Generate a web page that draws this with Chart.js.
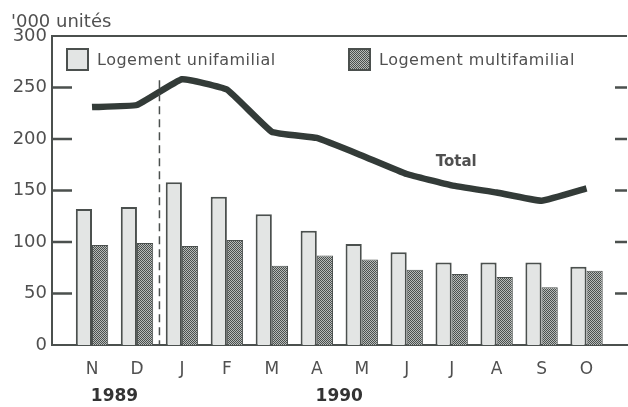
<!DOCTYPE html>
<html>
<head>
<meta charset="utf-8">
<script src="https://cdn.jsdelivr.net/npm/chart.js@4.4.1/dist/chart.umd.min.js"></script>
<style>
  html, body { margin: 0; padding: 0; background: #fff; }
</style>
</head>
<body>
<canvas id="chart" width="628" height="407"></canvas>
<script>
// Mises en chantier, en milliers d'unités
const months = ["N", "D", "J", "F", "M", "A", "M", "J", "J", "A", "S", "O"];
const singleFamily = [132, 134, 158, 144, 127, 111, 98, 90, 80, 80, 80, 76];
const multiFamily = [97, 99, 96, 102, 77, 87, 83, 73, 69, 66, 56, 72];
const total = [231, 233, 258, 248, 207, 201, 184, 166, 155, 148, 140, 152];
const yTicks = [0, 50, 100, 150, 200, 250, 300];
const years = ["1989", "1990"];
const yearCenters = [0.5, 5.5];
const yearBreak = 1.5;
const totalLabelAt = { x: 8.1, y: 178 };

const INK = "#4b504e";
const TEXT = "#505050";

Chart.defaults.font.family = "'DejaVu Sans', sans-serif";
Chart.defaults.color = TEXT;

function dotPattern() {
  const c = document.createElement("canvas");
  c.width = 2;
  c.height = 2;
  const g = c.getContext("2d");
  g.fillStyle = "#4b504e";
  g.fillRect(0, 0, 2, 2);
  g.fillStyle = "#b7bbb9";
  g.fillRect(1, 0, 1, 1);
  g.fillRect(0, 1, 1, 1);
  return g.createPattern(c, "repeat");
}

const dots = dotPattern();
const light = "#e3e5e4";

function points(values) {
  return values.map((v, i) => ({ x: i, y: v }));
}

// frame, inward ticks, year split, legend and labels
const frame = {
  id: "frame",
  afterDraw(chart) {
    const { ctx, chartArea: a, scales } = chart;
    const y = scales.y;
    const x = scales.x;
    ctx.save();
    ctx.strokeStyle = INK;
    ctx.lineWidth = 2;
    ctx.beginPath();
    ctx.moveTo(a.left, a.top);
    ctx.lineTo(a.right, a.top);
    ctx.stroke();

    ctx.lineWidth = 2.5;
    y.ticks.forEach(t => {
      if (t.value === 0 || t.value === 300) return;
      const py = y.getPixelForValue(t.value);
      ctx.beginPath();
      ctx.moveTo(a.left, py);
      ctx.lineTo(a.left + 20, py);
      ctx.moveTo(a.right - 12, py);
      ctx.lineTo(a.right, py);
      ctx.stroke();
    });

    const bx = x.getPixelForValue(yearBreak);
    ctx.lineWidth = 1.5;
    ctx.setLineDash([8, 5]);
    ctx.beginPath();
    ctx.moveTo(bx, y.getPixelForValue(257));
    ctx.lineTo(bx, a.bottom);
    ctx.stroke();
    ctx.setLineDash([]);

    ctx.font = "18px 'DejaVu Sans'";
    ctx.fillStyle = TEXT;
    ctx.textBaseline = "middle";
    ctx.textAlign = "left";
    ctx.fillText("'000 unités", 11, 22);

    ctx.font = "bold 15px 'DejaVu Sans'";
    ctx.textAlign = "center";
    ctx.fillText("Total", x.getPixelForValue(totalLabelAt.x), y.getPixelForValue(totalLabelAt.y));

    const items = [
      { ds: chart.data.datasets[0], left: a.left + 15 },
      { ds: chart.data.datasets[1], left: a.left + 297 }
    ];
    ctx.font = "16px 'DejaVu Sans'";
    ctx.letterSpacing = "0.5px";
    ctx.textAlign = "left";
    items.forEach(it => {
      const top = a.top + 13;
      ctx.fillStyle = it.ds.backgroundColor;
      ctx.fillRect(it.left, top, 21, 21);
      ctx.lineWidth = 2;
      ctx.strokeStyle = INK;
      ctx.strokeRect(it.left, top, 21, 21);
      ctx.fillStyle = TEXT;
      ctx.fillText(it.ds.label, it.left + 30, top + 12);
    });
    ctx.restore();
  }
};

new Chart(document.getElementById("chart"), {
  data: {
    datasets: [
      {
        type: "bar",
        label: "Logement unifamilial",
        data: points(singleFamily),
        backgroundColor: light,
        borderColor: INK,
        borderWidth: 2,
        categoryPercentage: 0.72,
        barPercentage: 1,
        order: 2
      },
      {
        type: "bar",
        label: "Logement multifamilial",
        data: points(multiFamily),
        backgroundColor: dots,
        borderColor: INK,
        borderWidth: 1,
        categoryPercentage: 0.72,
        barPercentage: 1,
        order: 2
      },
      {
        type: "line",
        label: "Total",
        data: points(total),
        borderColor: "#333b38",
        borderWidth: 6.5,
        pointRadius: 0,
        tension: 0.1,
        borderCapStyle: "butt",
        order: 1
      }
    ]
  },
  options: {
    responsive: false,
    animation: false,
    events: [],
    layout: { padding: { top: 36, right: 1, left: 0, bottom: 0 } },
    plugins: {
      legend: { display: false },
      tooltip: { enabled: false }
    },
    scales: {
      x: {
        type: "linear",
        offset: false,
        min: -0.89,
        max: 11.9,
        afterFit: scale => { scale.height = 34; },
        grid: { display: false, drawTicks: false },
        border: { display: true, color: INK, width: 2 },
        ticks: {
          stepSize: 1,
          includeBounds: false,
          autoSkip: false,
          maxRotation: 0,
          padding: 14,
          font: { size: 17 },
          callback: v => (Number.isInteger(v) && months[v] !== undefined ? months[v] : "")
        }
      },
      years: {
        type: "linear",
        position: "bottom",
        offset: false,
        min: -0.89,
        max: 11.9,
        afterFit: scale => { scale.height = 28; },
        grid: { display: false, drawTicks: false },
        border: { display: false },
        afterBuildTicks: axis => { axis.ticks = yearCenters.map(v => ({ value: v })); },
        ticks: {
          autoSkip: false,
          maxRotation: 0,
          padding: 7,
          color: "#333",
          font: { size: 17, weight: "bold" },
          callback: (v, i) => years[i]
        }
      },
      y: {
        min: 0,
        max: 300,
        afterBuildTicks: axis => { axis.ticks = yTicks.map(v => ({ value: v })); },
        afterFit: scale => { scale.width = 52; },
        grid: { display: false, drawTicks: false },
        border: { display: true, color: INK, width: 2 },
        ticks: { padding: 5, font: { size: 18 } }
      }
    }
  },
  plugins: [frame]
});
</script>
</body>
</html>
